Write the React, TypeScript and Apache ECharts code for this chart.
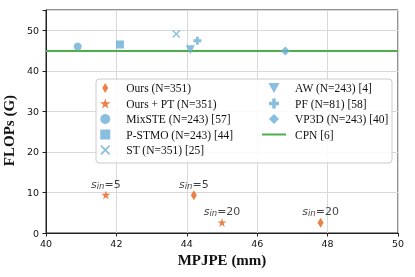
import React, { useEffect, useRef } from "react";
import * as echarts from "echarts";

// ---- data ----
const xTicks = [40, 42, 44, 46, 48, 50];
const yTicks = [0, 10, 20, 30, 40, 50];

const oursName = "Ours (N=351)";
const oursX = [44.2, 47.8];
const oursY = [9.3, 2.5];
const oursS = [5, 20];

const oursPtName = "Ours + PT (N=351)";
const oursPtX = [41.7, 45.0];
const oursPtY = [9.4, 2.6];
const oursPtS = [5, 20];

const baselineNames = [
  "MixSTE (N=243) [57]",
  "P-STMO (N=243) [44]",
  "ST (N=351) [25]",
  "AW (N=243) [4]",
  "PF (N=81) [58]",
  "VP3D (N=243) [40]",
];
const baselineX = [40.9, 42.1, 43.7, 44.1, 44.3, 46.8];
const baselineY = [46.0, 46.5, 49.1, 45.2, 47.4, 44.9];

const cpnName = "CPN [6]";
const cpnY = 44.9;

// ---- styles ----
const ORANGE = "#E8601C";
const BLUE = "#6AAED6";
const GREEN = "#4DAF4A";

const THIN_DIAMOND = "path://M3,0L6,5L3,10L0,5Z";
const STAR =
  "path://M0,-1L0.225,-0.309L0.951,-0.309L0.363,0.118L0.588,0.809L0,0.382L-0.588,0.809L-0.363,0.118L-0.951,-0.309L-0.225,-0.309Z";
const XMARK =
  "path://M0,1.2L1.2,0L5,3.8L8.8,0L10,1.2L6.2,5L10,8.8L8.8,10L5,6.2L1.2,10L0,8.8L3.8,5Z";
const PLUS = "path://M3.2,0H6.8V3.2H10V6.8H6.8V10H3.2V6.8H0V3.2H3.2Z";
const TRI_DOWN = "path://M0,0L10,0L5,9Z";
const SQUARE = "path://M0,0H10V10H0Z";
const DIAMOND = "path://M5,0L10,5L5,10L0,5Z";
const LINE_ICON = "path://M0,0H24V2H0Z";

const baselineSymbols = ["circle", SQUARE, XMARK, TRI_DOWN, PLUS, DIAMOND];
const baselineSizes = [8, 8, 8, 9, 8, 9];

const labelRich = {
  s: { fontFamily: "DejaVu Sans", fontStyle: "italic", fontSize: 11, color: "#111" },
  sub: {
    fontFamily: "DejaVu Sans",
    fontStyle: "italic",
    fontSize: 8.5,
    color: "#111",
    padding: [3, 0, 0, 0],
  },
  n: { fontFamily: "DejaVu Sans", fontSize: 11, color: "#111" },
};

const sLabel = {
  show: true,
  position: "top",
  distance: 0,
  formatter: (p: any) => `{s|s}{sub|in}{n|=${p.value[2]}}`,
  rich: labelRich,
};

export default function App() {
  const ref = useRef<HTMLDivElement>(null);
  useEffect(() => {
    if (!ref.current) return;
    const chart = echarts.init(ref.current, undefined, { renderer: "svg" });

    const series: any[] = [
      {
        name: oursName,
        type: "scatter",
        symbol: THIN_DIAMOND,
        symbolSize: [6, 10],
        itemStyle: { color: ORANGE },
        data: oursX.map((x, i) => [x, oursY[i], oursS[i]]),
        label: sLabel,
        z: 5,
      },
      {
        name: oursPtName,
        type: "scatter",
        symbol: STAR,
        symbolSize: 9,
        itemStyle: { color: ORANGE },
        data: oursPtX.map((x, i) => [x, oursPtY[i], oursPtS[i]]),
        label: sLabel,
        z: 5,
      },
      ...baselineNames.map((n, i) => ({
        name: n,
        type: "scatter",
        symbol: baselineSymbols[i],
        symbolSize: baselineSizes[i],
        itemStyle: { color: BLUE },
        data: [[baselineX[i], baselineY[i]]],
        z: 5,
      })),
      {
        name: cpnName,
        type: "line",
        symbol: "none",
        showSymbol: false,
        lineStyle: { color: GREEN, width: 2 },
        itemStyle: { color: GREEN },
        data: [
          [xTicks[0], cpnY],
          [xTicks[xTicks.length - 1], cpnY],
        ],
        z: 3,
      },
    ];

    const legendCommon = {
      orient: "vertical",
      top: 82,
      padding: 0,
      itemWidth: 24,
      itemHeight: 10,
      itemGap: 3.5,
      textStyle: {
        fontFamily: "Liberation Serif",
        fontSize: 11.5,
        color: "#111",
        lineHeight: 12,
        padding: [0, 0, 0, 4],
      },
      z: 10,
    };

    chart.setOption({
      animation: false,
      grid: {
        left: 46,
        right: 17,
        top: 10,
        bottom: 44,
        outerBoundsMode: "none",
        containLabel: false,
        show: true,
        borderColor: "#222",
        borderWidth: 1,
      },
      xAxis: {
        type: "value",
        min: 40,
        max: 50,
        interval: 2,
        name: "MPJPE (mm)",
        nameLocation: "middle",
        nameGap: 18,
        nameTextStyle: {
          fontFamily: "Liberation Serif",
          fontWeight: "bold",
          fontSize: 15,
          color: "#111",
        },
        axisLine: { show: true, lineStyle: { color: "#222" } },
        axisTick: { show: true, length: 3.5, lineStyle: { color: "#222" } },
        axisLabel: {
          fontFamily: "DejaVu Sans",
          fontSize: 9.5,
          color: "#111",
          margin: 5,
          formatter: (v: number) => (xTicks.includes(v) ? String(v) : ""),
        },
        splitLine: { show: true, lineStyle: { color: "#d9d9d9", width: 1 } },
      },
      yAxis: {
        type: "value",
        min: 0,
        max: 55,
        interval: 10,
        name: "FLOPs (G)",
        nameLocation: "middle",
        nameGap: 16,
        nameTextStyle: {
          fontFamily: "Liberation Serif",
          fontWeight: "bold",
          fontSize: 15,
          color: "#111",
          padding: [0, 18, 0, 0],
        },
        axisLine: { show: true, lineStyle: { color: "#222" } },
        axisTick: { show: true, length: 3.5, lineStyle: { color: "#222" } },
        axisLabel: {
          fontFamily: "DejaVu Sans",
          fontSize: 9.5,
          color: "#111",
          margin: 7,
          formatter: (v: number) => (yTicks.includes(v) ? String(v) : ""),
        },
        splitLine: { show: true, lineStyle: { color: "#d9d9d9", width: 1 } },
      },
      graphic: [
        {
          type: "rect",
          shape: { x: 96, y: 79, width: 296, height: 84, r: 3 },
          style: { fill: "rgba(255,255,255,0.85)", stroke: "#cccccc", lineWidth: 1 },
          z: 8,
        },
      ],
      legend: [
        {
          ...legendCommon,
          left: 100,
          data: [oursName, oursPtName, ...baselineNames.slice(0, 3)],
        },
        {
          ...legendCommon,
          left: 262,
          data: [
            ...baselineNames.slice(3),
            { name: cpnName, icon: LINE_ICON, itemStyle: { color: GREEN } },
          ],
        },
      ],
      series,
    });
    return () => chart.dispose();
  }, []);
  return (
    <div
      ref={ref}
      style={{ position: "fixed", left: 0, top: 0, width: 415, height: 277 }}
    />
  );
}
